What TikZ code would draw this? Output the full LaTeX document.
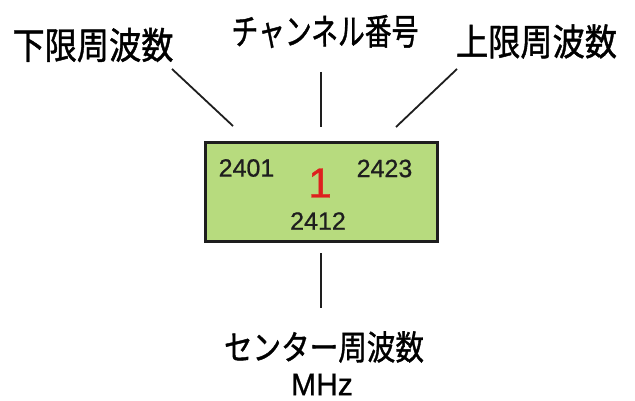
\documentclass[tikz,border=0pt]{standalone}
\usepackage{fontspec}
\setmainfont{Liberation Sans}
\newfontfamily\jp[FakeBold=1.2]{Noto Sans CJK JP}
\newfontfamily\lat[FakeBold=0.8]{Liberation Sans}
\definecolor{boxgreen}{RGB}{183,219,126}
\definecolor{numred}{RGB}{222,32,30}
\definecolor{ink}{RGB}{30,30,30}
\begin{document}
\begin{tikzpicture}[x=1pt,y=-1pt,
  lbl/.style={inner sep=0pt, text=black},
  num/.style={inner sep=0pt, font=\lat\fontsize{25}{25}\selectfont, text=ink},
  conn/.style={line width=1.8pt, draw=ink}]
\useasboundingbox (0,0) rectangle (635,401);
\fill[white] (0,0) rectangle (635,401);
% box
\node[draw=ink, line width=3pt, fill=boxgreen, minimum width=232pt, minimum height=98pt, inner sep=0pt] (box) at (321,192) {};
\node[num] (lo) at (246.5,168) {2401};
\node[num] (hi) at (384.5,168.5) {2423};
\node[num] (ce) at (318,221) {2412};
\node[inner sep=0pt, font=\lat\fontsize{42}{42}\selectfont, text=numred] (ch) at (320,183) {1};
% labels
\node[lbl, font=\jp\fontsize{37}{37}\selectfont, xscale=0.87] (lowl) at (93,45) {下限周波数};
\node[lbl, font=\jp\fontsize{36}{36}\selectfont, xscale=0.745] (chl) at (325,31.5) {チャンネル番号};
\node[lbl, font=\jp\fontsize{37}{37}\selectfont, xscale=0.87] (hil) at (536.5,41.5) {上限周波数};
\node[lbl, font=\jp\fontsize{34}{34}\selectfont, xscale=0.84] (cel) at (324,347) {センター周波数};
\node[lbl, font=\lat\fontsize{31}{31}\selectfont, xscale=0.97] (mhz) at (322,384.5) {MHz};
% connector ends
\coordinate (a1) at (172,69);
\coordinate (a2) at (233,126);
\coordinate (b1) at (321,72);
\coordinate (b2) at (321,127);
\coordinate (c1) at (457,69);
\coordinate (c2) at (396,127);
\coordinate (d1) at (321,253);
\coordinate (d2) at (321,308);
\draw[conn] (a1) -- (a2);
\draw[conn] (b1) -- (b2);
\draw[conn] (c1) -- (c2);
\draw[conn] (d1) -- (d2);
\end{tikzpicture}
\end{document}
